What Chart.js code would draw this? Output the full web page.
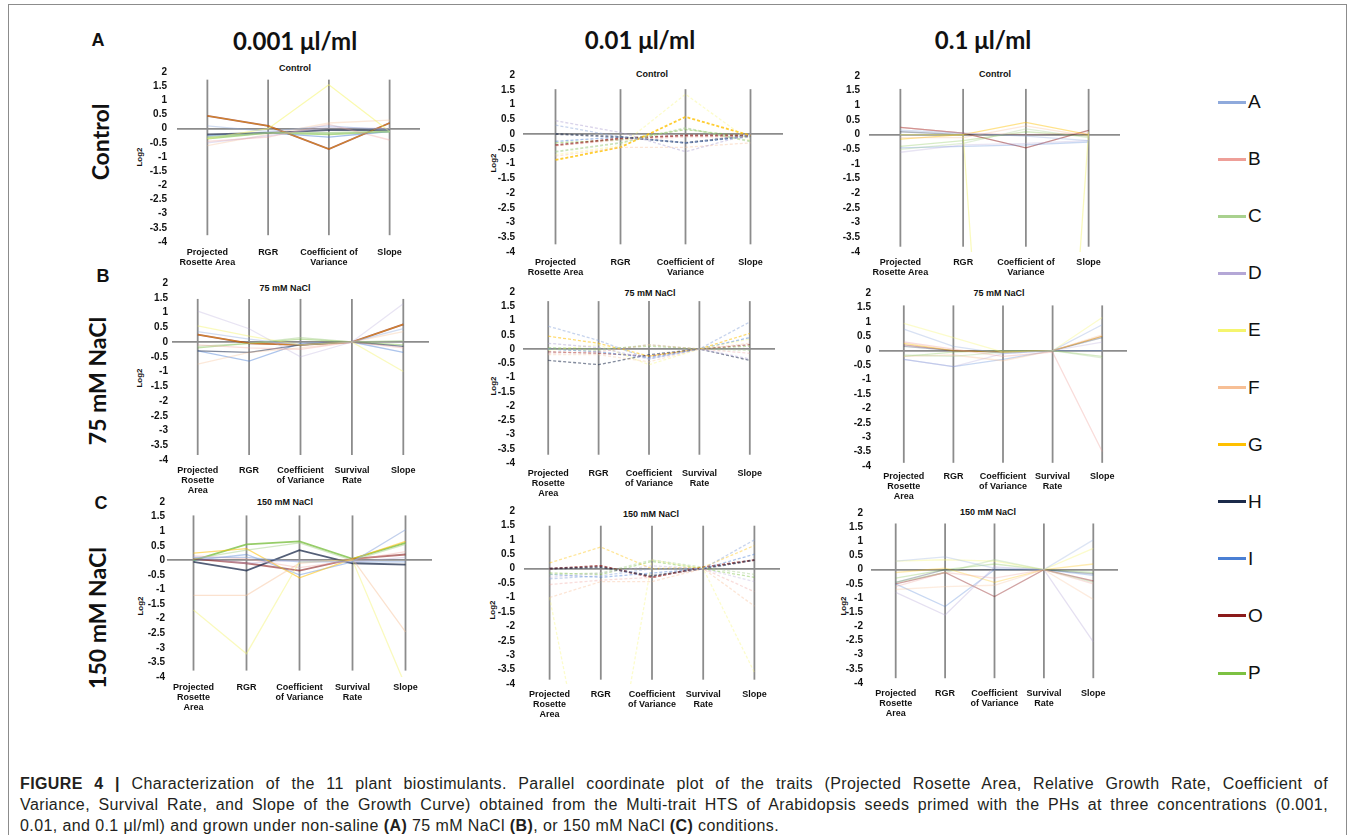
<!DOCTYPE html>
<html>
<head>
<meta charset="utf-8">
<script src="https://cdn.jsdelivr.net/npm/chart.js@4.4.1/dist/chart.umd.min.js"></script>
<style>
  html, body { margin: 0; padding: 0; background: #fff; }
  body { width: 1355px; height: 835px; position: relative; overflow: hidden; font-family: 'Liberation Sans', Arial, sans-serif; color: #111; }
  .frame { position: absolute; left: 8px; top: 4px; width: 1339px; height: 850px; border: 1px solid #8c8c8c; box-sizing: border-box; }
  .t { position: absolute; white-space: nowrap; transform: translate(-50%, -50%); }
  .col-title { font-family: Lato, 'Open Sans', sans-serif; font-weight: 700; font-size: 24px; }
  .row-letter { font-weight: 700; font-size: 18px; }
  .row-title { font-family: Lato, 'Open Sans', sans-serif; font-weight: 700; font-size: 23px; transform: translate(-50%, -50%) rotate(-90deg); }
  .sub { font-weight: 700; font-size: 9px; }
  .log2 { font-weight: 700; font-size: 8px; transform: translate(-50%, -50%) rotate(-90deg); }
  canvas { position: absolute; }
  .legend-item { position: absolute; left: 1218px; display: flex; align-items: center; transform: translateY(-50%); }
  .legend-item .swatch { width: 28px; height: 3px; }
  .legend-item .lab { font-size: 19px; margin-left: 2px; line-height: 20px; }
  .caption { position: absolute; left: 20px; top: 773px; width: 1308px; font-size: 16px; letter-spacing: 0.4px; line-height: 21px; color: #231f20; }
  .caption .full { text-align: justify; text-align-last: justify; }
</style>
</head>
<body>
<div class="frame"></div>
<div id="texts"></div>
<div id="legend"></div>
<div class="caption">
  <div class="full"><b>FIGURE 4 |</b> Characterization of the 11 plant biostimulants. Parallel coordinate plot of the traits (Projected Rosette Area, Relative Growth Rate, Coefficient of</div>
  <div class="full">Variance, Survival Rate, and Slope of the Growth Curve) obtained from the Multi-trait HTS of Arabidopsis seeds primed with the PHs at three concentrations (0.001,</div>
  <div>0.01, and 0.1 μl/ml) and grown under non-saline <b>(A)</b> 75 mM NaCl <b>(B)</b>, or 150 mM NaCl <b>(C)</b> conditions.</div>
</div>
<script>
// ---- data ----
const seriesNames = ['A', 'B', 'C', 'D', 'E', 'F', 'G', 'H', 'I', 'O', 'P'];
const conditions = ['Control', '75 mM NaCl', '150 mM NaCl'];
const rowLetters = ['A', 'B', 'C'];
const concentrations = ['0.001 μl/ml', '0.01 μl/ml', '0.1 μl/ml'];
const traitsControl = [['Projected', 'Rosette Area'], 'RGR', ['Coefficient of', 'Variance'], 'Slope'];
const traitsSalt = [['Projected', 'Rosette', 'Area'], 'RGR', ['Coefficient', 'of Variance'], ['Survival', 'Rate'], 'Slope'];
const yTicks = [2, 1.5, 1, 0.5, 0, -0.5, -1, -1.5, -2, -2.5, -3, -3.5, -4];

// Log2 values, one row per series (A B C D E F G H I O P)
const control_0001 = [
  [0.1, -0.1, 0.1, -0.05],
  [-0.45, -0.3, 0.15, -0.4],
  [-0.3, -0.15, -0.15, -0.1],
  [-0.5, -0.25, 0.05, 0.0],
  [-0.35, 0.0, 1.55, -0.1],
  [-0.6, -0.2, 0.2, 0.3],
  [0.45, 0.1, -0.72, 0.2],
  [-0.2, -0.15, -0.05, -0.05],
  [-0.25, -0.15, -0.3, -0.1],
  [0.45, 0.1, -0.72, 0.2],
  [-0.35, -0.15, -0.2, -0.1]
];
const control_001 = [
  [0.3, -0.1, -0.3, -0.05],
  [-0.4, -0.2, -0.1, -0.1],
  [-0.6, -0.3, 0.2, -0.25],
  [0.45, 0.05, -0.6, 0.0],
  [-0.7, -0.4, 1.35, -0.25],
  [-0.75, -0.45, -0.45, -0.3],
  [-0.88, -0.45, 0.58, -0.05],
  [0.0, -0.1, -0.3, -0.05],
  [-0.25, -0.1, -0.3, -0.1],
  [-0.38, -0.15, -0.05, -0.05],
  [-0.3, -0.2, 0.15, -0.1]
];
const control_01 = [
  [0.15, 0.05, -0.05, -0.2],
  [0.25, 0.05, 0.0, 0.05],
  [-0.5, -0.3, 0.2, -0.1],
  [-0.6, -0.35, -0.3, -0.2],
  [0.0, 0.0, -30, 0.1],
  [-0.1, -0.1, 0.3, -0.05],
  [-0.15, 0.0, 0.42, 0.0],
  [0.1, 0.0, 0.0, 0.0],
  [-0.45, -0.4, -0.35, -0.25],
  [0.25, 0.05, -0.45, 0.15],
  [-0.4, -0.2, 0.1, -0.05]
];
const nacl75_0001 = [
  [0.35, 0.1, -0.1, 0.0, 0.45],
  [-0.1, -0.2, -0.25, 0.0, -0.2],
  [-0.15, -0.05, 0.15, 0.0, 0.05],
  [1.05, 0.45, -0.5, 0.0, 1.3],
  [0.55, 0.2, -0.1, 0.0, -1.0],
  [-0.75, -0.35, -0.2, 0.0, 0.35],
  [0.25, -0.05, -0.1, 0.0, 0.6],
  [-0.3, -0.35, -0.1, 0.0, -0.15],
  [-0.3, -0.65, -0.05, 0.0, -0.35],
  [0.25, -0.05, -0.1, 0.0, 0.6],
  [-0.2, -0.05, 0.1, 0.0, -0.1]
];
const nacl75_001 = [
  [0.8, 0.3, -0.35, 0.0, 0.95],
  [-0.15, -0.1, 0.15, 0.0, -0.15],
  [0.0, -0.05, 0.15, 0.0, -0.05],
  [0.2, 0.05, -0.35, 0.0, -0.35],
  [-0.05, 0.15, -0.55, 0.0, 0.35],
  [-0.2, -0.2, -0.45, 0.0, 0.2],
  [0.45, 0.2, -0.25, 0.0, 0.55],
  [-0.4, -0.55, -0.2, 0.0, -0.4],
  [0.0, -0.1, -0.3, 0.0, 0.4],
  [-0.1, -0.15, -0.25, 0.0, 0.15],
  [0.05, 0.0, 0.1, 0.0, 0.1]
];
const nacl75_01 = [
  [0.75, 0.15, -0.1, 0.0, 0.9],
  [0.3, 0.05, -0.2, -0.05, -3.5],
  [-0.15, -0.2, -0.05, 0.0, -0.25],
  [-0.3, -0.55, -0.1, 0.0, 0.3],
  [0.95, 0.45, -0.05, 0.0, 1.15],
  [-0.2, -0.15, -0.35, 0.0, 0.55],
  [0.25, 0.0, -0.05, 0.0, 0.5],
  [0.15, 0.0, -0.05, 0.0, 0.45],
  [-0.3, -0.55, -0.3, 0.0, 0.0],
  [0.2, 0.0, -0.05, 0.0, 0.5],
  [-0.2, -0.05, 0.0, 0.0, -0.2]
];
const nacl150_0001 = [
  [0.1, 0.1, -0.05, -0.05, 1.05],
  [0.15, 0.05, -0.25, 0.0, 0.3],
  [0.05, 0.35, 0.6, 0.0, 0.55],
  [0.1, -0.1, 0.0, -0.05, 0.1],
  [-1.7, -3.2, -0.05, 0.0, -4.3],
  [-1.2, -1.2, -0.1, 0.05, -2.45],
  [0.25, 0.4, -0.6, 0.05, 0.65],
  [-0.05, -0.35, 0.35, -0.1, -0.15],
  [0.0, 0.2, -0.5, -0.05, -0.05],
  [0.05, -0.1, -0.35, 0.05, 0.2],
  [0.0, 0.55, 0.65, 0.05, 0.6]
];
const nacl150_001 = [
  [-0.35, -0.25, 0.0, 0.0, 1.0],
  [-0.55, -0.4, -0.3, 0.0, -0.8],
  [-0.2, -0.15, 0.3, 0.05, -0.2],
  [-0.3, -0.15, 0.1, 0.0, -0.45],
  [-1.0, -10, 0.3, 0.0, -3.6],
  [-1.0, -0.45, -0.45, 0.0, -1.3],
  [0.2, 0.75, 0.0, 0.05, 0.8],
  [0.0, 0.05, -0.25, 0.0, 0.3],
  [-0.2, -0.3, -0.15, 0.0, 0.5],
  [0.0, 0.1, -0.3, 0.05, 0.3],
  [-0.15, -0.2, 0.25, 0.0, -0.3]
];
const nacl150_01 = [
  [0.3, 0.45, 0.05, 0.0, 1.05],
  [-0.6, -0.1, -0.3, 0.0, -0.5],
  [-0.45, -0.1, 0.35, 0.0, -0.45],
  [-0.8, -1.6, 0.1, 0.0, -2.55],
  [0.3, 0.35, 0.3, 0.0, 0.75],
  [-0.7, -0.6, -0.55, 0.0, -1.05],
  [-0.1, 0.05, -0.45, 0.0, 0.2],
  [-0.45, 0.0, 0.0, 0.0, -0.15],
  [-0.5, -1.3, 0.0, 0.0, -0.2],
  [-0.5, -0.1, -0.95, 0.0, -0.4],
  [-0.3, 0.0, 0.2, 0.0, -0.1]
];

// ---- styles / layout ----
const seriesColors = ['#8faadc', '#ee9f98', '#a9d18e', '#b4a7d6', '#f5f56e', '#f7bf95',
                      '#ffc000', '#1b2a4a', '#4a7fd4', '#8b1a1a', '#7cc142'];
const panelAlpha = [
  [0.4, 0.35, 0.7, 0.35, 0.55, 0.35, 0.45, 0.7, 0.5, 0.75, 0.6],
  [0.5, 0.4, 0.6, 0.5, 0.35, 0.4, 0.8, 0.6, 0.5, 0.7, 0.5],
  [0.35, 0.35, 0.35, 0.3, 0.45, 0.35, 0.45, 0.35, 0.3, 0.5, 0.3],
  [0.4, 0.35, 0.5, 0.3, 0.45, 0.35, 0.45, 0.55, 0.45, 0.75, 0.45],
  [0.5, 0.35, 0.45, 0.5, 0.35, 0.35, 0.55, 0.55, 0.5, 0.5, 0.4],
  [0.35, 0.35, 0.35, 0.3, 0.35, 0.35, 0.4, 0.3, 0.3, 0.35, 0.3],
  [0.55, 0.35, 0.5, 0.35, 0.45, 0.45, 0.55, 0.75, 0.4, 0.6, 0.8],
  [0.5, 0.35, 0.45, 0.35, 0.35, 0.4, 0.4, 0.6, 0.45, 0.7, 0.45],
  [0.3, 0.3, 0.35, 0.35, 0.35, 0.3, 0.3, 0.3, 0.3, 0.4, 0.3]
];
const dashedColumn = [false, true, false];
const panelValues = [control_0001, control_001, control_01,
                     nacl75_0001, nacl75_001, nacl75_01,
                     nacl150_0001, nacl150_001, nacl150_01];
// chart area edges (L, R, top at y=2, bottom at y=-4), tick gap, axis line span, subtitle and Log2 spots
const boxes = [
  { L: 177, R: 420, T: 66, B: 242, gap: 10, up: 1.73, down: -3.76, sub: [295, 68], log2: [139, 157] },
  { L: 523, R: 783, T: 71, B: 252, gap: 8, up: 1.52, down: -3.74, sub: [652, 74], log2: [493, 163] },
  { L: 869, R: 1120, T: 71, B: 252, gap: 9, up: 1.56, down: -3.82, sub: [995, 74], log2: null },
  { L: 172, R: 429, T: 283, B: 460, gap: 4, up: 1.46, down: -3.83, sub: [285, 288], log2: [139, 378] },
  { L: 523, R: 775, T: 288, B: 463, gap: 8, up: 1.68, down: -3.71, sub: [650, 293], log2: [493, 386] },
  { L: 879, R: 1127, T: 289, B: 466, gap: 8, up: 1.57, down: -3.89, sub: [999, 293], log2: null },
  { L: 167, R: 432, T: 502, B: 677, gap: 2, up: 1.54, down: -3.78, sub: [285, 502], log2: [140, 606] },
  { L: 524, R: 780, T: 506, B: 684, gap: 9, up: 1.49, down: -3.85, sub: [651, 514], log2: [492, 610] },
  { L: 871, R: 1118, T: 509, B: 683, gap: 8, up: 1.63, down: -3.83, sub: [988, 512], log2: [843, 606] }
];
const colTitleSpots = [[295, 40], [640, 39], [983, 39]];
const rowLetterSpots = [[98, 40], [103, 276], [101, 503]];
const rowTitleSpots = [[100, 142], [97, 381], [97, 618]];
const axisGray = '#8c8c8c';
const smallFont = "'Liberation Sans', Arial, sans-serif";
const tickFont = "'Liberation Sans Narrow', 'Arial Narrow', 'Liberation Sans', Arial, sans-serif";

function rgba(hex, a) {
  const n = parseInt(hex.slice(1), 16);
  return 'rgba(' + (n >> 16) + ',' + ((n >> 8) & 255) + ',' + (n & 255) + ',' + a + ')';
}

function addText(cls, text, x, y) {
  const d = document.createElement('div');
  d.className = 't ' + cls;
  d.textContent = text;
  d.style.left = x + 'px';
  d.style.top = y + 'px';
  document.getElementById('texts').appendChild(d);
}

concentrations.forEach((c, i) => addText('col-title', c, colTitleSpots[i][0], colTitleSpots[i][1]));
conditions.forEach((c, i) => {
  addText('row-letter', rowLetters[i], rowLetterSpots[i][0], rowLetterSpots[i][1]);
  addText('row-title', c, rowTitleSpots[i][0], rowTitleSpots[i][1]);
});

// legend
const legend = document.getElementById('legend');
seriesNames.forEach((name, i) => {
  const item = document.createElement('div');
  item.className = 'legend-item';
  item.style.top = (102 + i * 57.1) + 'px';
  item.innerHTML = '<span class="swatch" style="background:' + seriesColors[i] + '"></span><span class="lab">' + name + '</span>';
  legend.appendChild(item);
});

// vertical trait axes
const axisLines = {
  id: 'axisLines',
  beforeDatasetsDraw(chart, args, opts) {
    const xs = chart.scales.x, ys = chart.scales.y, ctx = chart.ctx;
    const y1 = ys.getPixelForValue(opts.up), y2 = ys.getPixelForValue(opts.down);
    ctx.save();
    ctx.strokeStyle = axisGray;
    ctx.lineWidth = 1.8;
    for (let i = 0; i < xs.ticks.length; i++) {
      const px = xs.getPixelForTick(i);
      ctx.beginPath();
      ctx.moveTo(px, y1);
      ctx.lineTo(px, y2);
      ctx.stroke();
    }
    ctx.restore();
  }
};

const YW = 60, XH = 45, PT = 10, PR = 6;

panelValues.forEach((values, p) => {
  const row = Math.floor(p / 3), col = p % 3;
  const b = boxes[p];
  const traits = row === 0 ? traitsControl : traitsSalt;

  addText('sub', conditions[row], b.sub[0], b.sub[1]);
  if (b.log2) addText('log2', 'Log2', b.log2[0], b.log2[1]);

  const canvas = document.createElement('canvas');
  const w = b.R - b.L + YW + PR, h = b.B - b.T + PT + XH;
  canvas.width = w;
  canvas.height = h;
  canvas.style.left = (b.L - YW) + 'px';
  canvas.style.top = (b.T - PT) + 'px';
  canvas.style.width = w + 'px';
  canvas.style.height = h + 'px';
  document.body.appendChild(canvas);

  new Chart(canvas.getContext('2d'), {
    type: 'line',
    data: {
      labels: traits,
      datasets: seriesNames.map((name, s) => ({
        label: name,
        data: values[s],
        borderColor: rgba(seriesColors[s], panelAlpha[p][s]),
        borderWidth: panelAlpha[p][s] >= 0.6 ? 1.8 : 1.3,
        borderDash: dashedColumn[col] ? [3, 2] : [],
        pointRadius: 0,
        tension: 0,
        fill: false
      }))
    },
    options: {
      responsive: false,
      animation: false,
      devicePixelRatio: 1,
      layout: { padding: { top: PT, right: PR, left: 0, bottom: 0 } },
      plugins: {
        legend: { display: false },
        tooltip: { enabled: false },
        axisLines: { up: b.up, down: b.down }
      },
      scales: {
        x: {
          type: 'category',
          offset: true,
          grid: { display: false, drawTicks: false },
          border: { display: false },
          ticks: {
            autoSkip: false, maxRotation: 0, padding: 5, color: '#111',
            font: { family: smallFont, size: 9, weight: 'bold', lineHeight: 1.15 }
          },
          afterFit: s => { s.height = XH; }
        },
        y: {
          min: -4,
          max: 2,
          afterBuildTicks: s => { s.ticks = yTicks.map(v => ({ value: v })); },
          grid: {
            drawTicks: false,
            lineWidth: 1.8,
            color: c => (c.tick && c.tick.value === 0) ? axisGray : 'rgba(0,0,0,0)'
          },
          border: { display: false },
          ticks: {
            autoSkip: false,
            padding: b.gap, color: '#111',
            font: { family: tickFont, size: 10, weight: 'bold' },
            callback: v => String(v)
          },
          afterFit: s => { s.width = YW; }
        }
      }
    },
    plugins: [axisLines]
  });
});
</script>
</body>
</html>
